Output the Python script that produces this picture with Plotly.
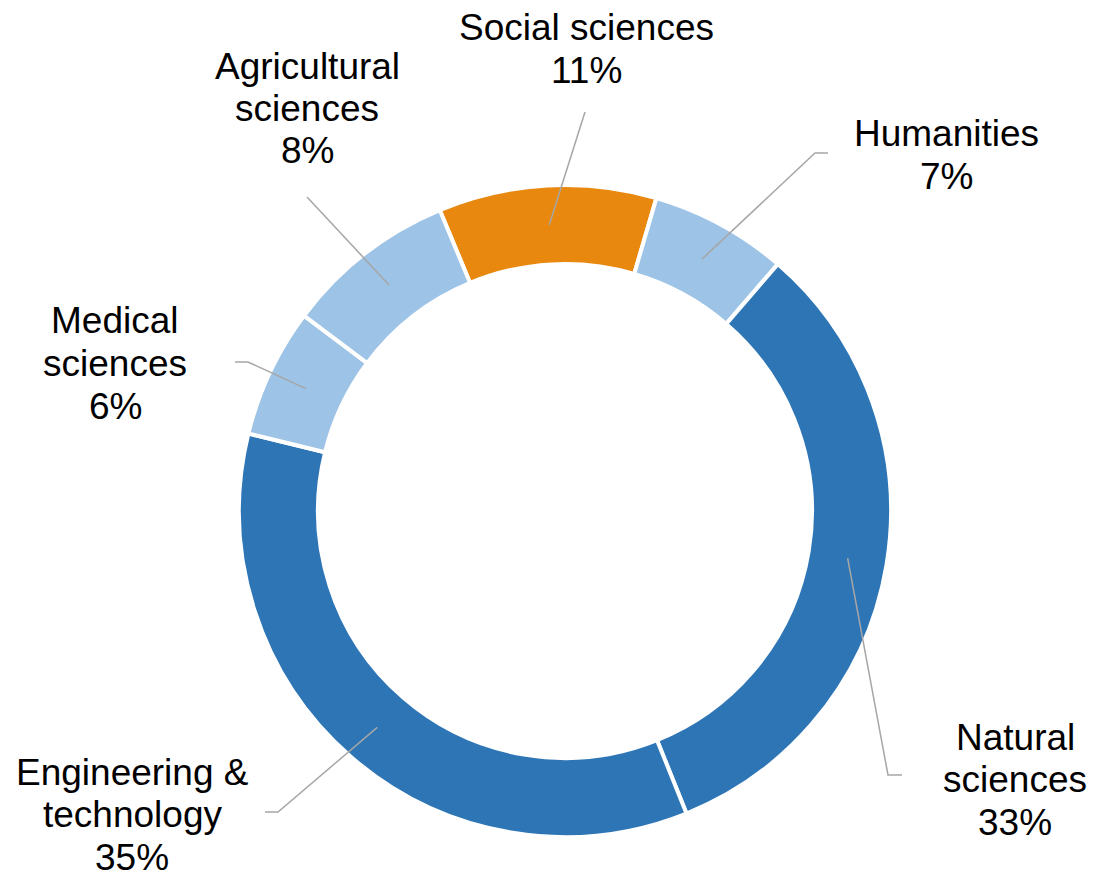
import math
import plotly.graph_objects as go

# Data (clockwise from the top-left edge of "Social sciences")
categories = ["Social sciences", "Humanities", "Natural sciences",
              "Engineering & technology", "Medical sciences", "Agricultural sciences"]
label_lines = [["Social sciences"], ["Humanities"], ["Natural", "sciences"],
               ["Engineering &", "technology"], ["Medical", "sciences"], ["Agricultural", "sciences"]]
shares = [10.8, 6.8, 32.6, 34.9, 6.4, 8.5]
colors = ["#E8880F", "#9DC3E6", "#2E75B6", "#2E75B6", "#9DC3E6", "#9DC3E6"]

W, H = 1096, 877
CX, CY, R_OUT, R_IN = 565, 511, 326, 247
ROTATION = -22.6
LINE_GAP = 42.5

# label first-line centre and elbow positions in pixels (layout)
label_pos = [(586, 28), (946, 134), (1015, 737), (132, 772), (115, 321), (307, 66)]
elbow_pts = [None, (815, 153), (888, 775), (278, 812), (248, 362), None]
line_end = [(585, 112), (828, 153), (902, 775), (265, 812), (235, 362), (307, 197)]


def px(x):
    return x / W


def py(y):
    return 1 - y / H


fig = go.Figure(go.Pie(
    labels=categories, values=shares, sort=False, direction="clockwise",
    rotation=ROTATION, hole=R_IN / R_OUT,
    marker=dict(colors=colors, line=dict(color="white", width=4)),
    textinfo="none", hoverinfo="label+percent", showlegend=False,
    domain=dict(x=[px(CX - R_OUT), px(CX + R_OUT)], y=[py(CY + R_OUT), py(CY - R_OUT)]),
))

total = sum(shares)
acc = 0.0
shapes = []
annotations = []
r_mid = (R_OUT + R_IN) / 2
for i, v in enumerate(shares):
    mid = ROTATION + (acc + v / 2) / total * 360
    acc += v
    a = math.radians(mid)
    sx, sy = CX + r_mid * math.sin(a), CY - r_mid * math.cos(a)
    pts = [(sx, sy)]
    if elbow_pts[i]:
        pts.append(elbow_pts[i])
    pts.append(line_end[i])
    path = "M " + " L ".join(f"{px(x):.5f},{py(y):.5f}" for x, y in pts)
    shapes.append(dict(type="path", path=path, xref="paper", yref="paper",
                       line=dict(color="#A6A6A6", width=1.5)))
    lx, ly = label_pos[i]
    lines = label_lines[i] + [f"{round(v)}%"]
    for k, t in enumerate(lines):
        annotations.append(dict(
            text=t, x=px(lx), y=py(ly + k * LINE_GAP),
            xref="paper", yref="paper", showarrow=False, xanchor="center", yanchor="middle",
            font=dict(family="Liberation Sans, Arial", size=37, color="black")))

fig.update_layout(width=W, height=H, margin=dict(l=0, r=0, t=0, b=0),
                  paper_bgcolor="white", plot_bgcolor="white",
                  shapes=shapes, annotations=annotations)
fig.write_html("out.html", config={"displayModeBar": False},
               post_script="document.body.style.margin='0';document.body.style.overflow='hidden';")
